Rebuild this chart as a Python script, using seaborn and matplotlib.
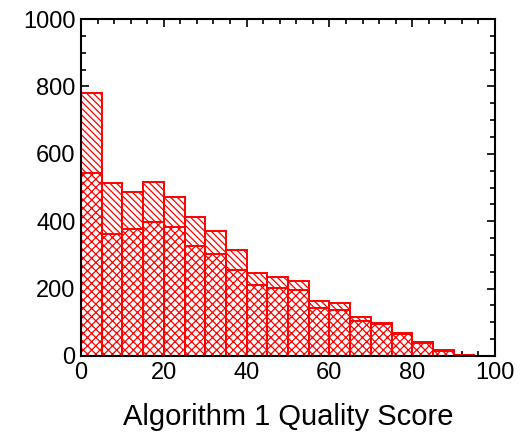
import numpy as np
import pandas as pd
import matplotlib
matplotlib.use("Agg")
import matplotlib.pyplot as plt
from matplotlib.ticker import MultipleLocator
import seaborn as sns

# Data
bin_edges = list(range(0, 105, 5))
series_a = [781, 512, 486, 515, 473, 413, 370, 316, 245, 233, 224, 164, 157, 115, 99, 67, 42, 18, 4, 0]
series_b = [543, 362, 378, 397, 384, 325, 303, 254, 211, 202, 196, 142, 137, 104, 95, 64, 40, 16, 2, 0]
xlabel = "Algorithm 1 Quality Score"

sns.set_style("ticks")
plt.rcParams['font.family'] = ['Liberation Sans', 'DejaVu Sans']
plt.rcParams['hatch.linewidth'] = 0.9
plt.rcParams['text.color'] = 'black'
plt.rcParams['axes.labelcolor'] = 'black'
plt.rcParams['xtick.color'] = 'black'
plt.rcParams['ytick.color'] = 'black'

centers = [e + 2.5 for e in bin_edges[:-1]]
df = pd.DataFrame({"x": centers, "a": series_a, "b": series_b})

fig = plt.figure(figsize=(5.31, 4.33), dpi=100)
ax = fig.add_axes([81/531, 1 - 356/433, (495 - 81)/531, (356 - 19)/433])

sns.histplot(data=df, x="x", weights="a", bins=bin_edges, ax=ax,
             facecolor="white", edgecolor="red", hatch="\\\\\\\\\\",
             linewidth=1.4, alpha=1)
sns.histplot(data=df, x="x", weights="b", bins=bin_edges, ax=ax,
             facecolor="white", edgecolor="red", hatch="xxxx",
             linewidth=1.4, alpha=1)

ax.set_xlim(0, 100)
ax.set_ylim(0, 1000)
ax.xaxis.set_major_locator(MultipleLocator(20))
ax.xaxis.set_minor_locator(MultipleLocator(4))
ax.yaxis.set_major_locator(MultipleLocator(200))
ax.yaxis.set_minor_locator(MultipleLocator(50))
ax.tick_params(which="both", direction="in", top=True, right=True,
               labelsize=17, width=1.2, color="black", labelcolor="black", pad=4)
ax.tick_params(which="major", length=6)
ax.tick_params(which="minor", length=3.5)
for s in ax.spines.values():
    s.set_linewidth(1.5)
    s.set_color("black")
ax.set_xlabel(xlabel, fontsize=21, labelpad=14, color="black")
ax.set_ylabel("")

fig.savefig("out.png", dpi=100)
